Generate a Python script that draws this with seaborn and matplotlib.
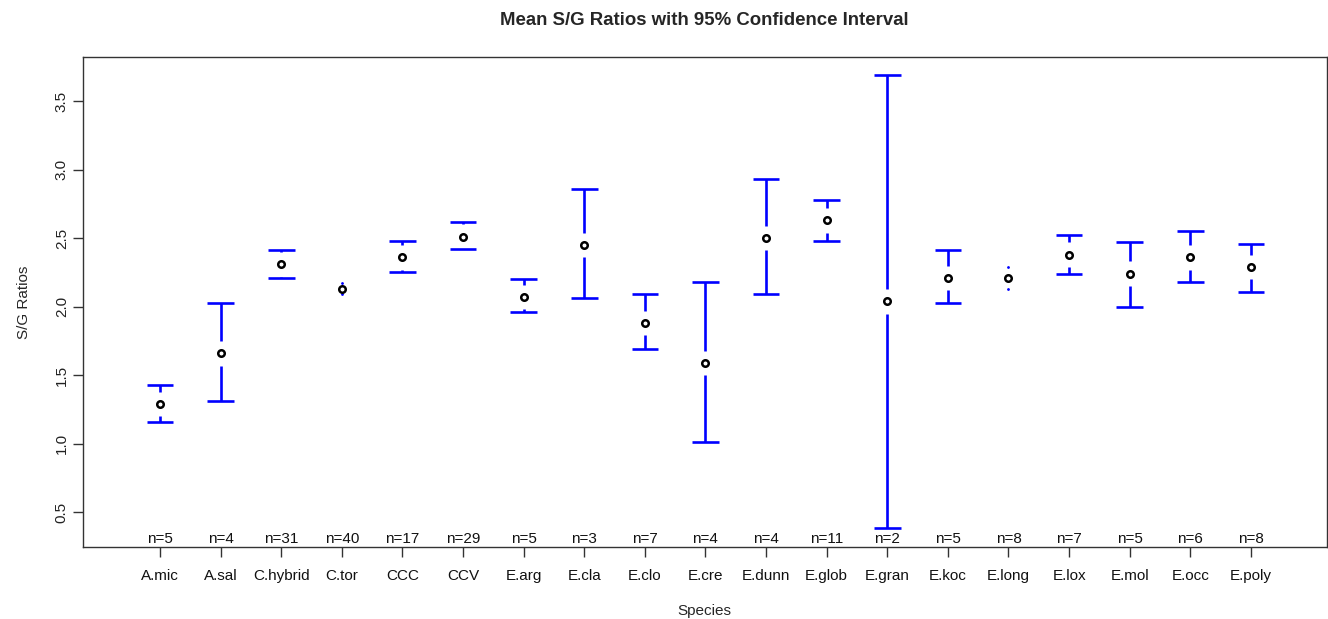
import numpy as np
import pandas as pd
import matplotlib
matplotlib.use('Agg')
import matplotlib.pyplot as plt
import seaborn as sns

# Values
species = ['A.mic', 'A.sal', 'C.hybrid', 'C.tor', 'CCC', 'CCV', 'E.arg', 'E.cla',
           'E.clo', 'E.cre', 'E.dunn', 'E.glob', 'E.gran', 'E.koc', 'E.long',
           'E.lox', 'E.mol', 'E.occ', 'E.poly']
means = [1.29, 1.66, 2.31, 2.13, 2.36, 2.51, 2.07, 2.45, 1.88, 1.59, 2.50, 2.63,
         2.04, 2.21, 2.21, 2.38, 2.24, 2.36, 2.29]
upper = [1.43, 2.03, 2.41, 2.17, 2.48, 2.62, 2.20, 2.86, 2.09, 2.18, 2.93, 2.78,
         3.69, 2.41, 2.29, 2.52, 2.47, 2.55, 2.46]
lower = [1.16, 1.31, 2.21, 2.09, 2.25, 2.42, 1.96, 2.06, 1.69, 1.01, 2.09, 2.48,
         0.39, 2.03, 2.13, 2.24, 2.00, 2.18, 2.11]
counts = [5, 4, 31, 40, 17, 29, 5, 3, 7, 4, 4, 11, 2, 5, 8, 7, 5, 6, 8]

df = pd.DataFrame({'Species': species, 'Mean': means, 'Upper': upper,
                   'Lower': lower, 'n': counts})

sns.set_style('white')
plt.rcParams['font.family'] = ['Liberation Sans', 'DejaVu Sans']

fig = plt.figure(figsize=(13.28, 6.19), dpi=100)
ax = fig.add_axes([0.0623, 0.1163, 0.9367, 0.7911])

blue = '#0000ff'
gap = 0.09      # gap left around the mean point, like R's plotCI
cap = 0.22


def draw_half(i, mean, end):
    d = abs(end - mean)
    sign = 1 if end > mean else -1
    if d > gap:
        ax.vlines(i, mean + sign * gap, end, color=blue, lw=1.9)
    if d > 0.085:
        ax.hlines(end, i - cap, i + cap, color=blue, lw=1.9)
    else:
        # too short for an arrow: R leaves only a speck
        ax.plot(i, end, marker='.', ms=2, color=blue)


# error bars with a gap around each mean
for i, row in df.iterrows():
    draw_half(i, row['Mean'], row['Upper'])
    draw_half(i, row['Mean'], row['Lower'])

# mean points
sns.scatterplot(data=df, x='Species', y='Mean', ax=ax, marker='o', s=22,
                facecolor='white', edgecolor='black', linewidth=1.8, zorder=5)

# n= labels along the bottom
for i, row in df.iterrows():
    ax.text(i, 0.255, f"n={row['n']}", ha='center', va='bottom', fontsize=11,
            color='#111111')

ax.set_xlim(-1.275, 19.25)
ax.set_ylim(0.248, 3.818)
ax.set_yticks([0.5, 1.0, 1.5, 2.0, 2.5, 3.0, 3.5])
ax.set_yticklabels(['0.5', '1.0', '1.5', '2.0', '2.5', '3.0', '3.5'],
                   rotation=90, va='center', fontsize=11, color='#222222')
ax.set_xticks(range(len(species)))
ax.set_xticklabels(species, fontsize=11, color='#111111')
ax.tick_params(axis='both', direction='out', length=7, width=1, color='#333333',
               bottom=True, left=True)
ax.tick_params(axis='x', pad=9)
ax.tick_params(axis='y', pad=3)

for sp in ax.spines.values():
    sp.set_color('#333333')
    sp.set_linewidth(1)

ax.set_xlabel('Species', fontsize=11, labelpad=15)
ax.set_ylabel('S/G Ratios', fontsize=11, labelpad=17)
ax.set_title('Mean S/G Ratios with 95% Confidence Interval', fontsize=13.4,
             fontweight='bold', pad=23.5)

fig.savefig('out.png', dpi=100)
